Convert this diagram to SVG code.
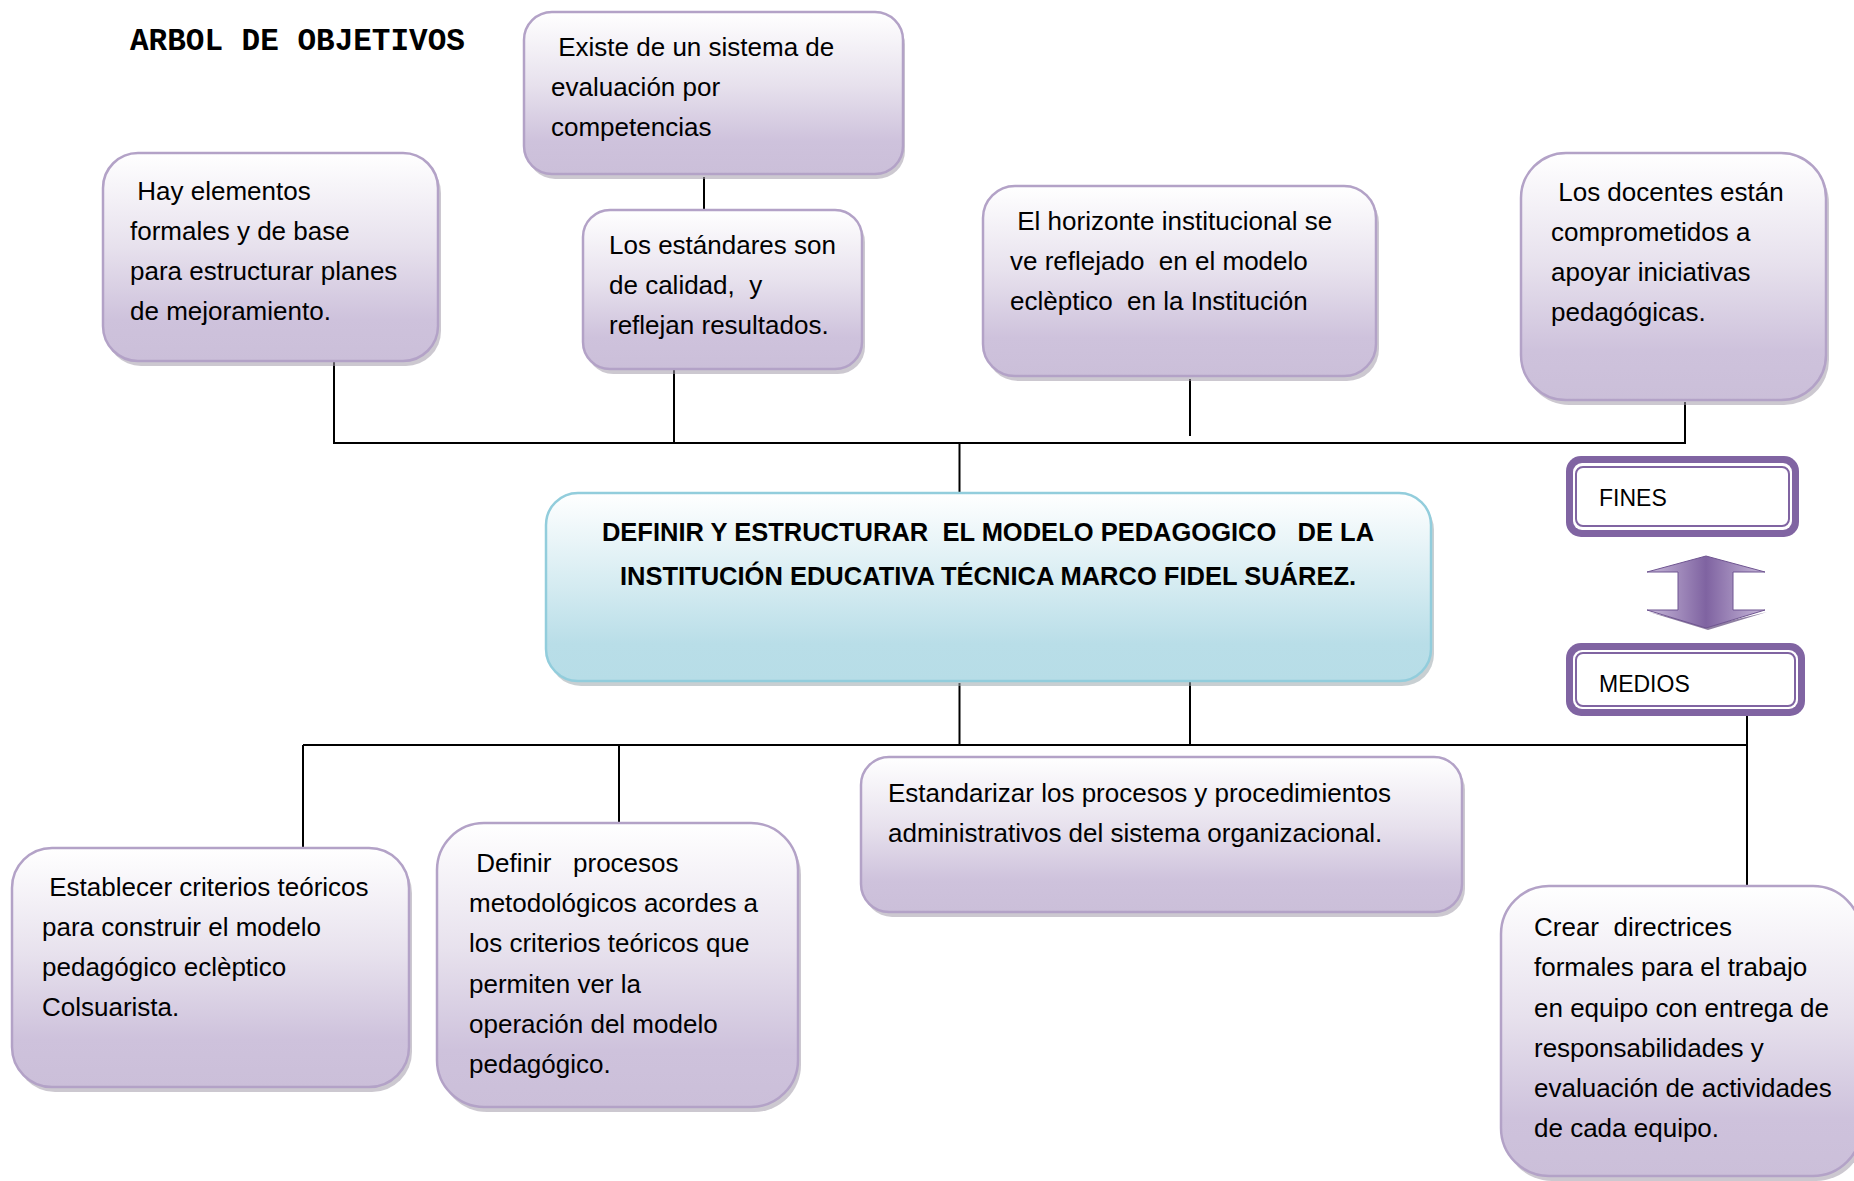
<svg xmlns="http://www.w3.org/2000/svg" width="1854" height="1181" viewBox="0 0 1854 1181">
<defs>
<linearGradient id="gp" x1="0" y1="0" x2="0" y2="1">
<stop offset="0" stop-color="#ffffff"/>
<stop offset="0.45" stop-color="#e7e1ed"/>
<stop offset="0.8" stop-color="#cec2dc"/>
<stop offset="1" stop-color="#cbbfd9"/>
</linearGradient>
<linearGradient id="gb" x1="0" y1="0" x2="0" y2="1">
<stop offset="0" stop-color="#ffffff"/>
<stop offset="0.5" stop-color="#d4ebf1"/>
<stop offset="0.8" stop-color="#b9dee8"/>
<stop offset="1" stop-color="#b7dde7"/>
</linearGradient>
<linearGradient id="ga" x1="0" y1="0" x2="1" y2="0">
<stop offset="0" stop-color="#c8b9da"/>
<stop offset="0.5" stop-color="#7f63a1"/>
<stop offset="1" stop-color="#c8b9da"/>
</linearGradient>
<style>
.box{fill:url(#gp);stroke:#b3a2c7;stroke-width:2.5}
.sh{fill:#a39aa9;opacity:0.55}
.t{font-family:"Liberation Sans",Arial,sans-serif;font-size:26px;fill:#000;white-space:pre}
.tb{font-family:"Liberation Sans",Arial,sans-serif;font-size:25.5px;font-weight:bold;fill:#000;white-space:pre;text-anchor:middle}
.ln{stroke:#000;stroke-width:2;fill:none}
.fo{fill:#8064a2}
.fi{fill:#fff;stroke:#8064a2;stroke-width:2}
.tf{font-family:"Liberation Sans",Arial,sans-serif;font-size:23px;fill:#000}
</style>
</defs>
<rect width="1854" height="1181" fill="#fff"/>

<text x="130" y="50" style="font-family:'Liberation Mono','Courier New',monospace;font-size:31px;font-weight:bold;white-space:pre">ARBOL DE OBJETIVOS</text>

<g id="connectors">
<line class="ln" x1="704" y1="177" x2="704" y2="210"/>
<line class="ln" x1="334" y1="362" x2="334" y2="443"/>
<line class="ln" x1="674" y1="370" x2="674" y2="443"/>
<line class="ln" x1="1190" y1="379" x2="1190" y2="436"/>
<line class="ln" x1="1685" y1="402" x2="1685" y2="443"/>
<line class="ln" x1="333" y1="443" x2="1686" y2="443"/>
<line class="ln" x1="959.5" y1="443" x2="959.5" y2="493"/>
<line class="ln" x1="959.5" y1="683" x2="959.5" y2="745"/>
<line class="ln" x1="1190" y1="678" x2="1190" y2="745"/>
<line class="ln" x1="303" y1="745" x2="1747" y2="745"/>
<line class="ln" x1="303" y1="745" x2="303" y2="848"/>
<line class="ln" x1="619" y1="745" x2="619" y2="823"/>
<line class="ln" x1="1747" y1="716" x2="1747" y2="886"/>
</g>

<g id="n-existe">
<rect class="sh" x="527" y="17" width="378" height="162" rx="28"/>
<rect class="box" x="524" y="12" width="379" height="162" rx="28"/>
<text class="t"><tspan x="551" y="56"> Existe de un sistema de</tspan><tspan x="551" y="96">evaluación por</tspan><tspan x="551" y="136">competencias</tspan></text>
</g>

<g id="n-hay">
<rect class="sh" x="106" y="158" width="335" height="208" rx="35"/>
<rect class="box" x="103" y="153" width="335" height="208" rx="35"/>
<text class="t"><tspan x="130" y="200"> Hay elementos</tspan><tspan x="130" y="240">formales y de base</tspan><tspan x="130" y="280">para estructurar planes</tspan><tspan x="130" y="320">de mejoramiento.</tspan></text>
</g>

<g id="n-estandares">
<rect class="sh" x="586" y="215" width="279" height="159" rx="27"/>
<rect class="box" x="583" y="210" width="279" height="159" rx="27"/>
<text class="t"><tspan x="609" y="254">Los estándares son</tspan><tspan x="609" y="294">de calidad,  y</tspan><tspan x="609" y="334">reflejan resultados.</tspan></text>
</g>

<g id="n-horizonte">
<rect class="sh" x="986" y="191" width="393" height="190" rx="32"/>
<rect class="box" x="983" y="186" width="393" height="190" rx="32"/>
<text class="t"><tspan x="1010" y="230"> El horizonte institucional se</tspan><tspan x="1010" y="270">ve reflejado  en el modelo</tspan><tspan x="1010" y="310">eclèptico  en la Institución</tspan></text>
</g>

<g id="n-docentes">
<rect class="sh" x="1524" y="158" width="305" height="247" rx="45"/>
<rect class="box" x="1521" y="153" width="305" height="247" rx="45"/>
<text class="t"><tspan x="1551" y="201"> Los docentes están</tspan><tspan x="1551" y="241">comprometidos a</tspan><tspan x="1551" y="281">apoyar iniciativas</tspan><tspan x="1551" y="321">pedagógicas.</tspan></text>
</g>

<g id="n-central">
<rect x="549" y="498" width="885" height="188" rx="32" fill="#9aa8ad" opacity="0.55"/>
<rect x="546" y="493" width="885" height="188" rx="32" fill="url(#gb)" stroke="#92cddc" stroke-width="2.5"/>
<text class="tb"><tspan x="988" y="541">DEFINIR Y ESTRUCTURAR  EL MODELO PEDAGOGICO   DE LA</tspan><tspan x="988" y="585">INSTITUCIÓN EDUCATIVA TÉCNICA MARCO FIDEL SUÁREZ.</tspan></text>
</g>

<g id="n-fines">
<rect class="fo" x="1566" y="456" width="233" height="81" rx="15"/>
<rect fill="#fff" x="1573" y="463" width="219" height="67" rx="9"/>
<rect class="fi" x="1576" y="467" width="213" height="59" rx="7"/>
<text class="tf" x="1599" y="506">FINES</text>
</g>

<g id="n-arrow">
<polygon points="1708,630 1767,612 1708,626 1649,612" fill="#5f497a" opacity="0.7"/>
<polygon points="1706,556 1765,572 1733,572 1733,610 1765,610 1706,628 1647,610 1678,610 1678,572 1647,572" fill="url(#ga)" stroke="#6f5591" stroke-width="1"/>
</g>

<g id="n-medios">
<rect class="fo" x="1566" y="643" width="239" height="73" rx="15"/>
<rect fill="#fff" x="1573" y="650" width="225" height="59" rx="9"/>
<rect class="fi" x="1576" y="653" width="219" height="53" rx="7"/>
<text class="tf" x="1599" y="692">MEDIOS</text>
</g>

<g id="n-establecer">
<rect class="sh" x="15" y="853" width="397" height="239" rx="40"/>
<rect class="box" x="12" y="848" width="397" height="239" rx="40"/>
<text class="t"><tspan x="42" y="896"> Establecer criterios teóricos</tspan><tspan x="42" y="936">para construir el modelo</tspan><tspan x="42" y="976">pedagógico eclèptico</tspan><tspan x="42" y="1016">Colsuarista.</tspan></text>
</g>

<g id="n-definir">
<rect class="sh" x="440" y="828" width="361" height="284" rx="47"/>
<rect class="box" x="437" y="823" width="361" height="284" rx="47"/>
<text class="t"><tspan x="469" y="872"> Definir   procesos</tspan><tspan x="469" y="912">metodológicos acordes a</tspan><tspan x="469" y="952">los criterios teóricos que</tspan><tspan x="469" y="993">permiten ver la</tspan><tspan x="469" y="1033">operación del modelo</tspan><tspan x="469" y="1073">pedagógico.</tspan></text>
</g>

<g id="n-estandarizar">
<rect class="sh" x="864" y="762" width="601" height="155" rx="28"/>
<rect class="box" x="861" y="757" width="601" height="155" rx="28"/>
<text class="t"><tspan x="888" y="802">Estandarizar los procesos y procedimientos</tspan><tspan x="888" y="842">administrativos del sistema organizacional.</tspan></text>
</g>

<g id="n-crear">
<rect class="sh" x="1504" y="891" width="360" height="290" rx="48"/>
<rect class="box" x="1501" y="886" width="360" height="290" rx="48"/>
<text class="t"><tspan x="1534" y="936">Crear  directrices</tspan><tspan x="1534" y="976">formales para el trabajo</tspan><tspan x="1534" y="1017">en equipo con entrega de</tspan><tspan x="1534" y="1057">responsabilidades y</tspan><tspan x="1534" y="1097">evaluación de actividades</tspan><tspan x="1534" y="1137">de cada equipo.</tspan></text>
</g>
</svg>
